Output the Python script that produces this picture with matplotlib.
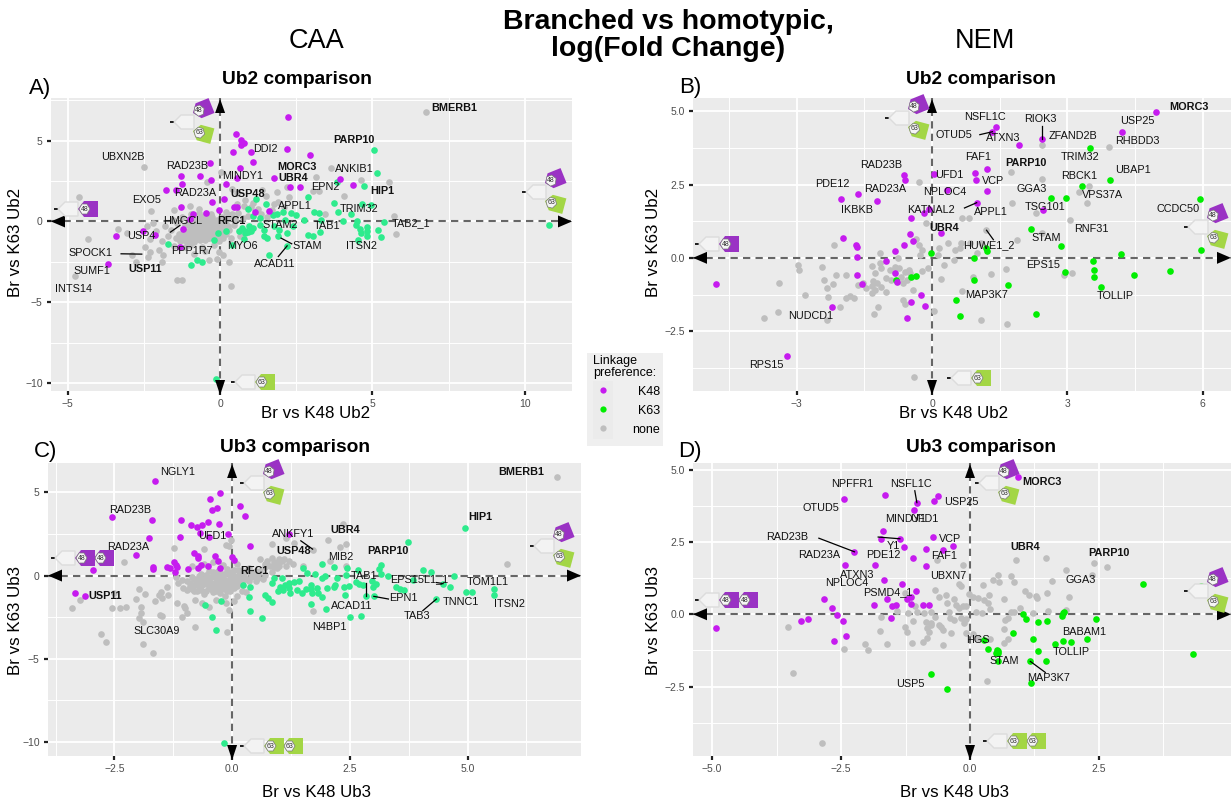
'''Branched vs homotypic log(fold change) scatter panels, CAA and NEM.'''

import matplotlib
matplotlib.use("Agg")
import matplotlib.pyplot as plt
from matplotlib.lines import Line2D
from matplotlib.patches import Polygon, Rectangle
from matplotlib.transforms import Affine2D

plt.rcParams["font.family"] = ["Liberation Sans", "DejaVu Sans"]

W, H = 1231, 805
PURPLE = "#C61BEF"
MINT = "#2EEB8D"
LIME = "#00EE00"
GREY = "#BEBEBE"
TAG48 = "#9A32C4"
TAG63 = "#A3D645"

# Panel A, Ub2 CAA (x = Br vs K48, y = Br vs K63)
a_k48 = [(2.23,6.44),(.53,5.43),(.67,5.05),(.77,4.85),(.67,4.75),(2.21,4.5),(1.03,4.31),(.41,4.31),(2.96,4.11),
	(1.07,3.69),(-.34,3.61),(.64,3.3),(-1.29,2.83),(-.65,2.81),(-.31,2.56),(.54,2.68),(1.78,2.68),(3.95,2.62),
	(4.35,2.23),(-1.24,2.31),(.2,2.29),(2.31,2.13),(2.62,2.15),(-1.77,1.94),(-1.46,1.94),(.13,1.36),(-.25,1.18),
	(-1.27,.89),(.46,.89),(.54,.89),(-.05,.72),(1.15,.58),(1.59,.62),(-.45,.52),(-.9,.47),(-1.0,.14),(-2.52,-.6),
	(-3.43,-.87),(-2.13,-.83),(-1.22,-.47),(-1.32,-1.61),(-3.69,-2.66)]
a_k63 = [(5.04,4.39),(5.14,2.99),(3.83,2.41),(4.73,2.17),(2.9,1.53),(1.19,1.38),(3.74,1.11),(4.65,1.07),(4.96,.99),
	(3.88,.58),(4.3,.45),(1.51,1.07),(.92,.76),(3.07,.6),(3.24,.52),(2.32,.5),(2.48,.39),(2.05,.56),(1.88,.45),
	(1.72,.39),(1.32,.21),(1.07,.31),(2.74,.08),(3.3,.1),(4.04,0),(4.48,0),(5.38,-.02),(4.45,-.21),(4.6,-.45),
	(4.83,-.37),(4.83,-.62),(4.83,-.87),(4.64,-.72),(5.17,-.54),(5.27,-.97),(4.54,-1.13),(10.78,-.19),(3.27,-.66),
	(2.89,-.83),(3.05,-.93),(1.91,-.93),(2.2,-1.51),(1.59,-2.08),(-.77,-2.37),(-.6,-2.5),(-.94,-2.7),(-1.72,-1.42),
	(-.21,-1.16),(-.15,-9.74),(.38,-1.44),(.79,-1.09),(.19,-.62),(-.06,-.72),(.72,-.41),(.82,-.56),(.94,-.31),
	(1.0,-.62),(.82,-.72),(1.07,-.41),(.92,-.68),(.63,-.56),(1.32,-.21),(1.44,-.52),(1.44,-.93),(1.53,-1.03),
	(1.76,-.31),(1.94,-.52),(2.2,-.72),(2.38,-.27),(2.13,.1)]
a_none = [(6.75,6.75),(-2.51,3.34),(3.64,3.32),(3.14,2.74),(4.64,2.54),(5.55,2.41),(.03,3.03),(-4.64,1.49),(4.08,1.55),
	(3.26,1.86),(3.05,1.86),(2.2,2.1),(1.88,1.79),(1.38,1.92),(.35,-3.96),(.28,-2.48),(-1.25,-3.61),(-1.41,-3.61),
	(-4.77,-3.36),(-4.33,-1.09),(-3.36,-.45),(-2.26,.62),(5.77,-.76),(5.7,.31),(3.45,.45),(-.44,2.41),(.39,2.0),
	(.56,1.75),(2.26,1.5),(1.76,1.05),(1.51,1.59),(1.07,1.13),(.82,1.34),(-.38,-2.41),(-1.91,-2.52),(-2.76,-2.5),
	(-2.89,-2.08),(-2.3,-1.86),(-2.0,-1.75),(-2.35,-2.21),(-3.07,-.72),(-2.47,-1.59),(-1.88,-2.06),(-1.5,.72),
	(-1.0,.93),(-.69,.76),(-2.4,-.3),(-2.2,-.1),(-2.1,-.6),(-2.3,-1.1),(-1.9,-1.2),(-1.7,-.9),(-1.6,-.5),(-1.5,-1.5),
	(-1.4,-.1),(-1.35,-.75),(-1.3,-1.2),(-1.25,.3),(-1.2,-.6),(-1.15,-.2),(-1.1,-1.0),(-1.05,.1),(-1.0,-.45),(-1.0,-1.45),
	(-.95,.45),(-.9,-.15),(-.9,-.8),(-.85,-1.25),(-.8,.2),(-.8,-.4),(-.75,-.65),(-.7,.55),(-.7,-.05),(-.7,-1.0),(-.65,-.3),
	(-.6,.3),(-.6,-.55),(-.6,-1.55),(-.55,-.8),(-.55,.05),(-.5,-.2),(-.5,-1.15),(-.45,-.45),(-.4,.2),(-.4,-.7),(-.35,-.05),
	(-.35,-1.0),(-.3,-.35),(-.3,.45),(-.25,-.6),(-.2,-1.45),(-.2,-.15),(-.15,-.85),(-.1,.1),(-.1,-.45),(-.05,-1.2),(-.05,-1.9),
	(0,-.25),(.05,.3),(.05,-.65),(.1,-1.0),(.15,.0),(.2,.6),(.25,-.3),(.3,.2),(.35,-1.0),(.4,.45),(.45,-.2),(.5,.15),(.55,1.1),
	(.6,.5),(.65,-.9),(.75,.2),(.8,.95),(.9,.35),(1.0,.9),(1.25,.75),(1.35,.45),(1.55,.3),(1.7,.7),(1.9,1.2),(2.1,.9),(-1.45,-1.0),
	(-1.15,-1.6),(-.85,-2.0),(-.5,-1.8),(-.1,-2.3),(.1,-2.1),(-1.55,.1),(-1.8,-.3)]
# the dense middle of panel A
a_blob = [(-1.25,-.95),(-1.2,-1.15),(-1.15,-.8),(-1.1,-1.25),(-1.1,-.65),(-1.05,-1.05),(-1.0,-.85),(-1.0,-.3),(-.95,-1.15),(-.95,-.6),
	(-.9,-1.0),(-.9,-.45),(-.85,-.75),(-.85,-.25),(-.8,-1.1),(-.8,-.6),(-.8,-.05),(-.75,-.9),(-.75,-.35),(-.7,-.75),(-.7,-.5),(-.7,.2),
	(-.65,-1.15),(-.65,-.15),(-.6,-.85),(-.6,-.35),(-.6,.05),(-.55,-.6),(-.55,-1.0),(-.55,.25),(-.5,-.45),(-.5,-.7),(-.5,.0),(-.45,-.9),
	(-.45,-.2),(-.45,.4),(-.4,-.55),(-.4,-.3),(-.4,-1.05),(-.35,-.8),(-.35,-.45),(-.35,.15),(-.3,-.65),(-.3,-.1),(-.3,-.95),(-.25,-.35),
	(-.25,.25),(-.2,-.55),(-.2,-.8),(-.2,.05),(-.15,-.25),(-.15,-.5),(-.15,-1.05),(-.1,-.7),(-.1,-.2),(-.05,-.45),(-.05,-.05),(0,-.65),
	(0,-.9),(.05,-.3),(.05,.0),(.1,-.5),(.1,.2),(.2,-.15),(.2,-.8),(.3,-.55),(.3,.4)]

a_label_names = ["BMERB1","PARP10","DDI2","UBXN2B","RAD23B","MORC3","ANKIB1","MINDY1","UBR4","EPN2","HIP1","RAD23A","USP48",
	"EXO5","APPL1","TRIM32","HMGCL","RFC1","TAB2_1","STAM2","TAB1","USP4","MYO6","STAM","ITSN2","PPP1R7","SPOCK1","ACAD11",
	"USP11","SUMF1","INTS14"]
a_label_x = [7.68,4.39,1.49,-3.19,-1.08,2.52,4.42,.74,2.41,3.45,5.32,-.82,.92,-2.4,2.47,4.57,-1.22,.38,6.27,1.96,3.5,-2.57,.74,
	2.85,4.64,-.92,-4.25,1.78,-2.47,-4.2,-4.81]
a_label_y = [7.04,5.01,4.48,3.96,3.45,3.38,3.26,2.83,2.68,2.15,1.9,1.73,1.69,1.34,.97,.8,.02,.02,-.12,-.23,-.29,-.93,-1.51,-1.51,
	-1.51,-1.82,-1.98,-2.6,-2.93,-3.09,-4.19]
a_bold = ["BMERB1","PARP10","MORC3","UBR4","HIP1","USP48","RFC1","USP11"]
a_segments = [(-1.63,-.66,-1.32,-.25),(-3.25,-2.0,-2.57,-2.02),(2.0,-1.03,2.35,-1.38),(1.91,-2.17,2.2,-1.51)]

# Panel B, Ub2 NEM
b_k48 = [(4.97,4.98),(1.41,4.45),(1.34,4.3),(4.22,4.3),(2.44,4.05),(1.93,3.85),(1.23,3.03),(.95,2.89),(.04,2.87),(.97,2.66),
	(-.63,2.83),(-.6,2.67),(.33,2.3),(1.23,2.27),(-1.64,2.17),(-2.02,2.01),(-1.22,1.95),(.99,1.88),(-.07,1.68),(-.18,1.54),
	(-.47,1.37),(2.47,1.62),(.19,.86),(-.48,.83),(-1.97,.66),(-.42,.58),(-.63,.45),(-1.69,.45),(-1.67,.37),(-.83,.25),
	(-1.67,.03),(-1.01,-.1),(-1.67,-.57),(-.82,-.53),(-1.56,-.89),(-.77,-.84),(-4.78,-.89),(-.24,-1.26),(-.47,-1.52),
	(-.16,-1.65),(-.55,-2.04),(-2.21,-1.68),(-3.21,-3.34)]
b_k63 = [(3.51,3.76),(3.95,2.64),(3.33,2.45),(5.94,1.99),(2.64,2.03),(2.98,2.05),(2.2,.98),(2.86,.39),(1.19,.32),(1.23,.22),
	(4.2,.14),(5.97,.26),(-.03,.15),(.93,-.02),(3.58,-.12),(3.59,-.41),(2.94,-.49),(5.28,-.44),(4.48,-.58),(3.6,-.65),
	(3.74,-.99),(-.36,-.62),(-.46,-.67),(-.8,-.76),(.93,-.74),(1.68,-.94),(.54,-1.45),(.62,-1.98),(2.3,-1.92)]
b_none = [(2.44,3.86),(3.93,3.78),(1.76,2.91),(2.44,2.68),(3.49,2.45),(3.25,2.24),(1.77,1.88),(3.43,1.86),(-.29,2.59),(.67,1.36),
	(.81,1.35),(2.3,1.54),(3.06,1.28),(-.13,1.19),(2.44,.86),(1.2,.96),(1.89,.62),(-.35,.65),(-2.18,.44),(-2.97,-.26),
	(-2.95,-.42),(-2.44,-.3),(-2.14,-.58),(-1.9,-.58),(-2.39,-.76),(-2.2,-.89),(-2.33,-1.04),(-3.4,-.86),(-2.82,-1.26),
	(-2.3,-1.33),(-1.9,-1.37),(-1.82,-1.3),(-1.73,-1.37),(-2.05,-1.68),(-3.41,-1.86),(-3.73,-2.04),(-2.33,-2.11),(-1.29,-1.9),
	(-1.2,-1.67),(-.65,-1.44),(-.6,-1.59),(.05,-1.8),(1.08,-2.12),(1.66,-2.27),(-.4,-4.07),(.67,-1.12),(.91,-.65),(1.3,-.56),
	(1.63,-.37),(2.93,-.59),(3.11,-.51),(.2,-.72),(.26,-.26),(-.09,-.36),(-.22,-.44),(.49,-.08),(.14,.1),(.36,.49),(.16,.32),
	(.65,.51),(.52,.26),(.62,.35),(.84,.49),(1.0,.15),(1.08,.51),(-.28,.43),(-.22,.26),(-.26,.09),(-.76,-.02),(-1.16,.18),
	(-1.16,-.19),(-1.34,-.28),(-1.14,-.36),(-1.26,-.53),(-1.52,-.85),(-1.65,-.93),(-1.47,-1.04),(-1.3,-.78),(-1.34,-.96),
	(-1.26,-1.1),(-1.21,-.85),(-1.14,-.99),(-1.32,-1.21),(-1.02,-.7),(-.91,-.74),(-1.02,-1.18),(-.73,-.36),(-.61,-.48),
	(-.48,-.53),(-.69,-.65),(-.56,-.76),(-.65,-.87),(-.43,-1.1),(-.82,-.31),(-.94,-.42),(-.52,-.4)]

b_label_names = ["MORC3","NSFL1C","RIOK3","USP25","OTUD5","ATXN3","ZFAND2B","RHBDD3","FAF1","TRIM32","PARP10","RAD23B","UBAP1","UFD1",
	"RBCK1","VCP","PDE12","RAD23A","GGA3","NPLOC4","VPS37A","TSG101","CCDC50","KATNAL2","IKBKB","APPL1","UBR4","RNF31","STAM",
	"HUWE1_2","EPS15","MAP3K7","TOLLIP","NUDCD1","RPS15"]
b_label_x = [5.69,1.18,2.4,4.55,.48,1.59,3.13,4.56,1.02,3.29,2.09,-1.12,4.45,.39,3.26,1.35,-2.21,-1.03,2.21,.29,3.77,2.5,5.45,-.03,
	-1.67,1.3,.27,3.54,2.54,1.26,2.47,1.2,4.06,-2.7,-3.67]
b_label_y = [5.15,4.79,4.73,4.65,4.19,4.1,4.14,3.98,3.45,3.44,3.23,3.18,2.99,2.84,2.8,2.62,2.51,2.36,2.36,2.24,2.15,1.74,1.68,1.63,
	1.63,1.57,1.03,.98,.67,.43,-.24,-1.25,-1.29,-1.99,-3.65]
b_bold = ["MORC3","PARP10","UBR4"]
b_segments = [(1.06,4.2,1.34,4.3),(2.44,4.49,2.44,4.05),(.72,1.7,.99,1.88),(1.36,.62,1.21,.94)]

# Panel C, Ub3 CAA
c_k48 = [(-1.64,5.67),(-.26,4.96),(-.46,4.6),(.17,4.2),(-.32,4.06),(-.43,3.96),(.27,3.6),(-2.55,3.5),(-1.7,3.36),(-1.09,3.32),
	(-.52,3.22),(-.63,3.04),(-.88,3.06),(-.74,2.91),(-.28,3.1),(-.09,2.51),(-1.76,2.25),(-1.11,2.33),(-.5,2.31),(-.68,2.55),
	(1.21,2.49),(.38,1.77),(-2.04,1.23),(-.81,1.37),(-.72,1.19),(-.72,1.05),(-.36,1.15),(-.3,.9),(-.01,1.11),(.05,.94),
	(-2.95,.32),(-1.68,.5),(-1.69,.42),(-1.38,.5),(-1.24,.8),(-1.2,.64),(-1.18,.5),(-1.32,.44),(-1.21,.24),(-.94,.4),(-.72,.44),
	(-.67,.62),(-.52,.6),(-.26,.44),(-3.34,-1.05),(-3.13,-1.21)]
c_k63 = [(4.95,2.89),(3.73,2.03),(3.17,.64),(3.13,.38),(2.67,.32),(1.91,.72),(2.16,.5),(1.51,.48),(2.45,.46),(4.06,.32),(4.23,.24),
	(4.72,-.02),(3.17,.08),(3.32,0),(1.77,.1),(1.59,.16),(1.98,0),(1.91,-.16),(2.23,-.12),(2.41,.04),(.89,-.12),(.85,-.46),(1.05,-.12),
	(1.42,-.3),(1.31,-.36),(1.2,-.42),(1.02,-.66),(1.12,-.56),(1.2,-.76),(1.08,-.86),(.98,-.92),(1.24,-1.03),(1.37,-.86),(1.49,-1.07),
	(1.67,-.56),(1.57,-.82),(1.69,-1.03),(1.67,-.82),(1.81,-.76),(1.91,-1.27),(1.83,-1.07),(2.02,-.76),(2.16,-.66),(2.18,-.56),
	(2.38,-.7),(2.48,-.62),(2.39,-1.17),(2.64,-.4),(2.69,-.52),(2.79,-.56),(2.97,-.3),(3.06,-.5),(2.99,-.7),(2.85,-1.21),(3.01,-1.25),
	(3.48,-.66),(3.56,-.8),(3.65,-.86),(3.85,-.28),(4.48,-.48),(4.62,-.66),(4.34,-1.41),(4.97,-1.0),(5.09,-.96),(5.56,-.82),(5.56,-1.15),
	(.7,-1.17),(.77,-1.37),(.85,-1.57),(.35,-1.31),(.38,-2.15),(.63,-2.55),(1.68,-1.73),(1.99,-2.03),(2.51,-2.51),(2.74,-2.45),
	(-.24,-1.55),(-.58,-1.79),(-.43,-2.47),(-.34,-3.3),(-.17,-10.07),(.24,-.54),(.37,-.66)]
c_none = [(6.89,5.95),(5.84,.72),(2.36,3.08),(2.03,2.13),(1.15,2.25),(2.42,1.91),(2.3,1.69),(1.72,1.55),(.85,1.91),(1.31,1.95),(-.03,2.15),
	(-.06,1.75),(-.14,1.85),(-1.23,1.63),(-.6,1.59),(-2.29,.82),(2.42,.58),(2.07,.9),(-3.41,-1.95),(-3.23,-1.47),(-2.51,-1.07),(-2.56,-1.95),
	(-2.39,-1.95),(-2.25,-1.87),(-2.05,-1.43),(-1.97,-.82),(-1.86,-1.11),(-1.94,-1.87),(-1.94,-2.23),(-1.98,-2.57),(-1.9,-2.77),(-2.78,-3.5),
	(-2.67,-3.98),(-1.89,-4.14),(-1.67,-4.68),(-.79,-3.08),(-.11,-3.42),(1.71,-2.13),(-1.64,-1.51),(-1.48,-1.37),(-1.52,-.96),(-1.36,-1.17),
	(-1.56,-1.17),(-1.54,-2.37),(-1.48,-2.41),(-1.17,-1.63),(-1.06,-2.51),(-.95,-2.23),(-.99,-1.97),(-1.02,-1.83),(-1.38,-.66),(-1.14,-.46),
	(-1.07,-.26),(-.95,-.86),(-.79,-1.47),(-.63,-1.67),(-.5,-1.87),(-.06,-2.07),(-.14,-1.67),(.9,.8),(1.0,1.0),(1.1,1.0),(1.2,.9),(1.0,.6),
	(.9,.5),(.7,.7),(.6,1.0),(.7,.5),(1.3,.7),(1.5,.6),(-.95,-.3),(-.9,-.6),(-.85,-.1),(-.8,-.9),(-.75,-.4),(-.7,-.15),(-.7,-.7),(-.65,.1),
	(-.6,-.5),(-.6,-1.1),(-.55,-.25),(-.5,-.75),(-.5,.25),(-.45,-.45),(-.4,-.05),(-.4,-1.0),(-.35,-.6),(-.3,-.25),(-.3,.3),(-.25,-.85),
	(-.25,-.45),(-.2,.05),(-.15,-.3),(-.15,-1.2),(-.1,-.65),(-.1,.4),(-.05,-.15),(-.05,-.95),(0,-.45),(0,.2),(.05,-.75),(.1,-.1),(.1,-1.2),
	(.15,.35),(.2,-.5),(.2,-.95),(.25,.1),(.3,-.2),(.35,.45),(.4,-.1),(.45,.2),(.5,-.35),(.55,.1),(.6,.3),(.65,-.2),(.7,.05),(.85,.2),(.3,-1.0),
	(.05,-1.5),(-.35,-1.45),(-1.05,-.75),(-1.2,-.1),(-.85,.55),(-.6,.7),(-.4,.8),(-.2,.65),(.1,.7)]
# the dense middle of panel C
c_blob = [(-.9,-.45),(-.85,-.8),(-.8,-.2),(-.8,-.55),(-.75,-.95),(-.7,-.35),(-.7,.0),(-.65,-.6),(-.65,-.85),(-.6,-.2),(-.55,-.45),(-.55,-.95),
	(-.55,.05),(-.5,-.6),(-.5,-.3),(-.45,-.8),(-.45,-.1),(-.4,-.5),(-.4,.2),(-.4,-.7),(-.35,-.3),(-.35,-.9),(-.35,.1),(-.3,-.5),(-.3,-.05),
	(-.3,-.75),(-.25,-.25),(-.25,.2),(-.25,-1.05),(-.2,-.6),(-.2,-.15),(-.2,-.35),(-.15,-.8),(-.15,.1),(-.15,-.5),(-.1,-.3),(-.1,-.9),(-.1,.2),
	(-.05,-.55),(-.05,-.35),(-.05,.05),(0,-.15),(0,-.7),(.05,-.45),(.05,-.05),(.05,.35),(.1,-.3),(.1,-.6),(.15,.1),(.15,-.2),(.2,-.35),(.25,-.1),
	(.3,.3),(.35,-.3),(.4,.1),(.45,-.05),(.5,.25),(.55,-.15),(.75,.9),(.85,1.05),(.95,.75),(1.05,.85),(.8,.55),(1.15,.6),(.95,.45)]

c_label_names = ["NGLY1","BMERB1","RAD23B","HIP1","UBR4","ANKFY1","UFD1","RAD23A","USP48","PARP10","MIB2","RFC1","TAB1","EPS15L1_1","TOM1L1",
	"USP11","EPN1","TNNC1","ITSN2","ACAD11","TAB3","N4BP1","SLC30A9"]
c_label_x = [-1.16,6.14,-2.16,5.27,2.4,1.29,-.42,-2.21,1.3,3.3,2.31,.47,2.81,3.97,5.43,-2.69,3.64,4.86,5.88,2.55,3.93,2.07,-1.61]
c_label_y = [6.25,6.25,3.96,3.52,2.75,2.53,2.35,1.69,1.47,1.47,1.13,.28,0,-.2,-.36,-1.25,-1.37,-1.57,-1.69,-1.81,-2.43,-3.1,-3.34]
c_bold = ["BMERB1","HIP1","UBR4","USP48","PARP10","RFC1","USP11"]
c_segments = [(1.46,2.09,1.71,1.59),(2.85,-.42,2.85,-1.21),(3.01,-1.25,3.32,-1.41),(4.05,-2.11,4.34,-1.41),(4.34,-.42,4.48,-.48)]

# Panel D, Ub3 NEM
d_k48 = [(.93,4.76),(-.62,4.09),(-1.65,4.13),(-2.45,4.0),(-.69,3.93),(-1.03,3.86),(-1.08,3.6),(-1.69,2.88),(-.71,2.66),(-1.36,2.61),
	(-1.72,2.61),(-1.27,2.33),(-.32,2.36),(-.86,2.25),(-.52,2.23),(-2.24,2.16),(-1.11,1.95),(-2.42,1.71),(-1.85,1.71),(-.86,1.66),
	(-1.66,1.17),(-1.31,1.04),(-1.05,.82),(-2.83,.53),(-1.61,.52),(-1.22,.53),(-1.14,.58),(-1.86,.31),(-1.52,.3),(-1.43,.31),(-1.14,.37),
	(-.91,.31),(-.79,.31),(-2.67,.21),(-2.57,-.02),(-3.27,-.23),(-3.15,-.17),(-2.46,-.22),(-1.53,-.13),(-2.41,-.75),(-2.64,-.94),(-4.93,-.49)]
d_k63 = [(3.36,1.04),(4.48,.99),(1.02,0),(1.08,-.16),(1.31,-.28),(1.5,-.24),(1.78,-.05),(1.8,.03),(1.83,.08),(2.45,-.16),(.83,-.64),(1.23,-.87),
	(1.8,-.91),(1.95,-.97),(2.26,-.84),(1.64,-1.03),(1.32,-1.26),(.28,-.89),(.34,-1.2),(.52,-1.24),(.55,-1.26),(.54,-1.33),(.51,-1.33),(.55,-1.61),
	(1.17,-1.63),(1.48,-1.62),(4.33,-1.36),(1.18,-2.36),(-.76,-2.08),(-.45,-2.59)]
d_none = [(.89,1.88),(1.47,1.96),(2.4,1.77),(2.66,1.64),(1.86,1.52),(2.37,1.37),(1.59,1.14),(-.14,1.69),(-.64,1.86),(.55,1.37),(.8,1.32),(.56,1.1),
	(.45,1.19),(.85,1.13),(.25,1.0),(-.21,1.03),(-.17,.99),(1.06,.82),(1.14,.66),(1.27,.64),(1.29,.55),(1.49,.72),(1.92,.61),(.36,.67),(.66,.54),
	(-.67,.84),(-1.26,.75),(-.61,.58),(-.46,.65),(-.31,.52),(-.01,.69),(.05,.61),(.16,.55),(.27,.5),(.35,.4),(.39,.18),(-.45,.38),(-.28,.32),(-.22,.21),
	(-.14,.27),(-.08,.27),(.97,.22),(.8,.09),(.86,.08),(1.23,.03),(1.52,.13),(1.86,.15),(.73,-.14),(.67,-.2),(.65,-.52),(.73,-.87),(.65,-1.0),(.39,-.87),
	(.16,-.83),(.06,-.68),(-.08,-.66),(-.36,-.66),(-.56,-.43),(-.75,-.31),(-.67,-.08),(-.75,.09),(-.9,.06),(-1.02,.09),(-1.07,.27),(-1.42,.12),(-1.72,-.08),
	(-1.2,.03),(-1.1,-.23),(-1.26,-.43),(-1.23,-.61),(-1.75,-.58),(-1.13,-.98),(-.92,-.96),(-.83,-.83),(-.8,-.61),(-.83,-.48),(-.85,-.25),(-.75,-.37),
	(-.6,-.37),(-.52,-.54),(-.52,-1.07),(-1.61,-1.04),(-2.03,-1.03),(-1.98,-1.25),(-2.45,-1.19),(-3.52,-.43),(-3.44,-2.04),(.33,-2.29),(-2.86,-4.45),
	(-.41,.09),(-.31,-.2),(-.18,-.14),(-.07,-.17),(-.11,-.29),(-.39,-.14),(.12,.09),(.23,.03)]

d_label_names = ["NPFFR1","NSFL1C","MORC3","USP25","OTUD5","MINDY1","UFD1","VCP","RAD23B","Y1","UBR4","PARP10","RAD23A","PDE12","FAF1","ATXN3","UBXN7",
	"GGA3","NPLOC4","PSMD4_1","BABAM1","HGS","TOLLIP","STAM","MAP3K7","USP5"]
d_label_x = [-2.28,-1.14,1.39,-.17,-2.89,-1.25,-.89,-.38,-3.54,-1.49,1.08,2.69,-2.92,-1.68,-.51,-2.19,-.42,2.15,-2.39,-1.59,2.21,.15,1.96,.67,1.52,-1.15]
d_label_y = [4.49,4.5,4.57,3.89,3.67,3.28,3.28,2.61,2.67,2.36,2.31,2.11,2.04,2.06,2.0,1.37,1.34,1.2,1.09,.76,-.61,-.9,-1.29,-1.61,-2.21,-2.4]
d_bold = ["MORC3","UBR4","PARP10"]
d_segments = [(-1.07,4.27,-1.03,3.86),(-2.93,2.63,-2.24,2.16),(-1.78,2.67,-1.36,2.61),(1.17,-1.63,1.46,-2.01)]

# pixel coordinates with the origin at the top left of the image
px = Affine2D().scale(1, -1).translate(0, H)
fig = plt.figure(figsize = (W / 100, H / 100), dpi = 100)

def addAxes(left, right, top, bottom):
	return fig.add_axes([left / W, 1 - bottom / H, (right - left) / W, (bottom - top) / H])

def poly(points, color, edge = "none", lw = 0, z = 6):
	fig.add_artist(Polygon(points, closed = True, facecolor = color, edgecolor = edge, linewidth = lw,
		transform = px, zorder = z, clip_on = False))

def ftext(x, y, s, size, ha = "center", va = "center", weight = "normal", color = "black", z = 7, spacing = 1.2):
	fig.text(x, y, s, fontsize = size, ha = ha, va = va, fontweight = weight, color = color,
		transform = px, zorder = z, linespacing = spacing)

def stem(x, y):
	# dash and pale base of a ubiquitin icon
	poly([(x, y - 1.2), (x + 4, y - 1.2), (x + 4, y + 1.2), (x, y + 1.2)], "#222222")
	poly([(x + 4, y), (x + 11, y - 7), (x + 24, y - 7), (x + 24, y + 7), (x + 11, y + 7)], "#F3F3F3", "#DCDCDC", 1)

def tag(x, y, color, name, angle):
	# one linkage tag, its left end at x, y
	shape = [(0, 0), (6, -8), (20, -8), (20, 8), (6, 8)]
	hole = [(1, 0), (4, -5), (9, -5), (12, 0), (9, 5), (4, 5)]
	rot = Affine2D().rotate_deg(angle)
	poly(rot.transform(shape) + (x, y), color)
	poly(rot.transform(hole) + (x, y), "#F5F5F5", "#777777", 0.5)
	cx, cy = rot.transform((6.5, 0)) + (x, y)
	ftext(cx, cy, name, 5, color = "#333333")

def branched(x, y):
	stem(x, y)
	tag(x + 23, y - 9, TAG48, "48", -22)
	tag(x + 23, y + 9, TAG63, "63", 15)

def linear(x, y, name, color, n):
	stem(x, y)
	for i in range(n):
		tag(x + 24 + i * 19, y, color, name, 0)

def panel(box, xlim, ylim, xt, xtl, xm, yt, ytl, ym, none, k48, k63, green, names, lx, ly, bold, segments):
	ax = addAxes(*box)
	ax.set_facecolor("#EBEBEB")
	for s in ax.spines.values():
		s.set_visible(False)
	ax.set_xlim(xlim)
	ax.set_ylim(ylim)
	ax.set_xticks(xt)
	ax.set_xticklabels(xtl)
	ax.set_yticks(yt)
	ax.set_yticklabels(ytl)
	ax.set_xticks(xm, minor = True)
	ax.set_yticks(ym, minor = True)
	ax.tick_params(which = "major", length = 3, width = 1.6, color = "#222222", labelsize = 7.5, labelcolor = "#4D4D4D", pad = 3)
	ax.tick_params(which = "minor", length = 0)
	ax.grid(which = "major", color = "white", linewidth = 1.3)
	ax.grid(which = "minor", color = "white", linewidth = 0.7)
	ax.set_axisbelow(True)
	ax.axhline(0, color = "#666666", linewidth = 1.5, dashes = (3.5, 2.5), zorder = 2)
	ax.axvline(0, color = "#666666", linewidth = 1.5, dashes = (3.5, 2.5), zorder = 2)
	for pts, col in ((none, GREY), (k63, green), (k48, PURPLE)):
		ax.scatter([p[0] for p in pts], [p[1] for p in pts], s = 23, color = col, linewidths = 0, zorder = 3)
	for n, x, y in zip(names, lx, ly):
		ax.text(x, y, n, fontsize = 7.8, ha = "center", va = "center", color = "#111111", zorder = 4,
			fontweight = "bold" if n in bold else "normal")
	for x0, y0, x1, y1 in segments:
		ax.plot([x0, x1], [y0, y1], color = "black", linewidth = 0.9, zorder = 4)
	# black arrow heads at the ends of the zero lines
	x0, y0 = px.inverted().transform(ax.transData.transform((0, 0)))
	left, right, top, bottom = box
	poly([(left, y0), (left + 14, y0 - 6), (left + 14, y0 + 6)], "black")
	poly([(right, y0), (right - 14, y0 - 6), (right - 14, y0 + 6)], "black")
	poly([(x0, top + 1), (x0 - 5, top + 15), (x0 + 5, top + 15)], "black")
	poly([(x0, bottom + 4), (x0 - 5, bottom - 11), (x0 + 5, bottom - 11)], "black")
	return ax

A_BOX = (51, 572, 98, 391)
B_BOX = (693, 1231, 98, 391)
C_BOX = (48, 581, 463, 756)
D_BOX = (693, 1231, 463, 756)

panel(A_BOX, (-5.55, 11.55), (-10.48, 7.63), [-5, 0, 5, 10], ["\u22125", "0", "5", "10"], [-2.5, 2.5, 7.5],
	[-10, -5, 0, 5], ["\u221210", "\u22125", "0", "5"], [-7.5, -2.5, 2.5, 7.5],
	a_none + a_blob, a_k48, a_k63, MINT, a_label_names, a_label_x, a_label_y, a_bold, a_segments)
panel(B_BOX, (-5.3, 6.63), (-4.54, 5.45), [-3, 0, 3, 6], ["\u22123", "0", "3", "6"], [-4.5, -1.5, 1.5, 4.5],
	[-2.5, 0, 2.5, 5], ["\u22122.5", "0.0", "2.5", "5.0"], [-3.75, -1.25, 1.25, 3.75],
	b_none, b_k48, b_k63, LIME, b_label_names, b_label_x, b_label_y, b_bold, b_segments)
panel(C_BOX, (-3.91, 7.41), (-10.85, 6.77), [-2.5, 0, 2.5, 5], ["\u22122.5", "0.0", "2.5", "5.0"], [-3.75, -1.25, 1.25, 3.75, 6.25],
	[-10, -5, 0, 5], ["\u221210", "\u22125", "0", "5"], [-7.5, -2.5, 2.5],
	c_none + c_blob, c_k48, c_k63, MINT, c_label_names, c_label_x, c_label_y, c_bold, c_segments)
panel(D_BOX, (-5.37, 5.06), (-4.9, 5.23), [-5, -2.5, 0, 2.5], ["\u22125.0", "\u22122.5", "0.0", "2.5"], [-3.75, -1.25, 1.25, 3.75],
	[-2.5, 0, 2.5, 5], ["\u22122.5", "0.0", "2.5", "5.0"], [-3.75, -1.25, 1.25, 3.75],
	d_none, d_k48, d_k63, LIME, d_label_names, d_label_x, d_label_y, d_bold, d_segments)

# icons
branched(170, 122)
branched(522, 192)
linear(54, 209, "48", TAG48, 1)
linear(231, 382, "63", TAG63, 1)
branched(885, 118)
branched(1184, 227)
linear(695, 244, "48", TAG48, 1)
linear(947, 378, "63", TAG63, 1)
branched(240, 483)
branched(530, 546)
linear(51, 558, "48", TAG48, 2)
linear(240, 746, "63", TAG63, 2)
branched(975, 483)
branched(1184, 591)
linear(695, 600, "48", TAG48, 2)
linear(983, 741, "63", TAG63, 2)

# titles and axis labels
ftext(668, 35, "Branched vs homotypic,\nlog(Fold Change)", 20.5, weight = "bold", spacing = 1.05)
ftext(316, 41, "CAA", 19.5)
ftext(985, 41, "NEM", 19.5)
for x, y, s in ((297, 79, "Ub2 comparison"), (981, 79, "Ub2 comparison"), (295, 447, "Ub3 comparison"), (981, 447, "Ub3 comparison")):
	ftext(x, y, s, 13.8, weight = "bold")
for x, y, s in ((40, 88, "A)"), (690, 87, "B)"), (46, 451, "C)"), (690, 451, "D)")):
	ftext(x, y, s, 16)
for x, y, s in ((316, 413, "Br vs K48 Ub2"), (954, 413, "Br vs K48 Ub2"), (316, 792, "Br vs K48 Ub3"), (954, 792, "Br vs K48 Ub3")):
	ftext(x, y, s, 12.2)
for x, y, s in ((16, 242, "Br vs K63 Ub2"), (653, 242, "Br vs K63 Ub2"), (16, 620, "Br vs K63 Ub3"), (653, 620, "Br vs K63 Ub3")):
	fig.text(x, y, s, fontsize = 12.2, rotation = 90, ha = "center", va = "center", transform = px)

# legend
fig.add_artist(Rectangle((587, 353), 76, 93, facecolor = "#EFEFEF", edgecolor = "none", transform = px, zorder = 5))
fig.add_artist(Rectangle((593, 381), 20, 58, facecolor = "#EBEBEB", edgecolor = "none", transform = px, zorder = 5))
ftext(593, 367, "Linkage\npreference:", 9, ha = "left", spacing = 1.05)
for y, col, s in ((390, PURPLE, "K48"), (409, LIME, "K63"), (428, GREY, "none")):
	fig.add_artist(Line2D([603], [y], marker = "o", markersize = 4.5, color = col, markeredgewidth = 0, linestyle = "none",
		transform = px, zorder = 6))
	ftext(660, y + 2, s, 9, ha = "right")

fig.savefig("out.png", dpi = 100)
